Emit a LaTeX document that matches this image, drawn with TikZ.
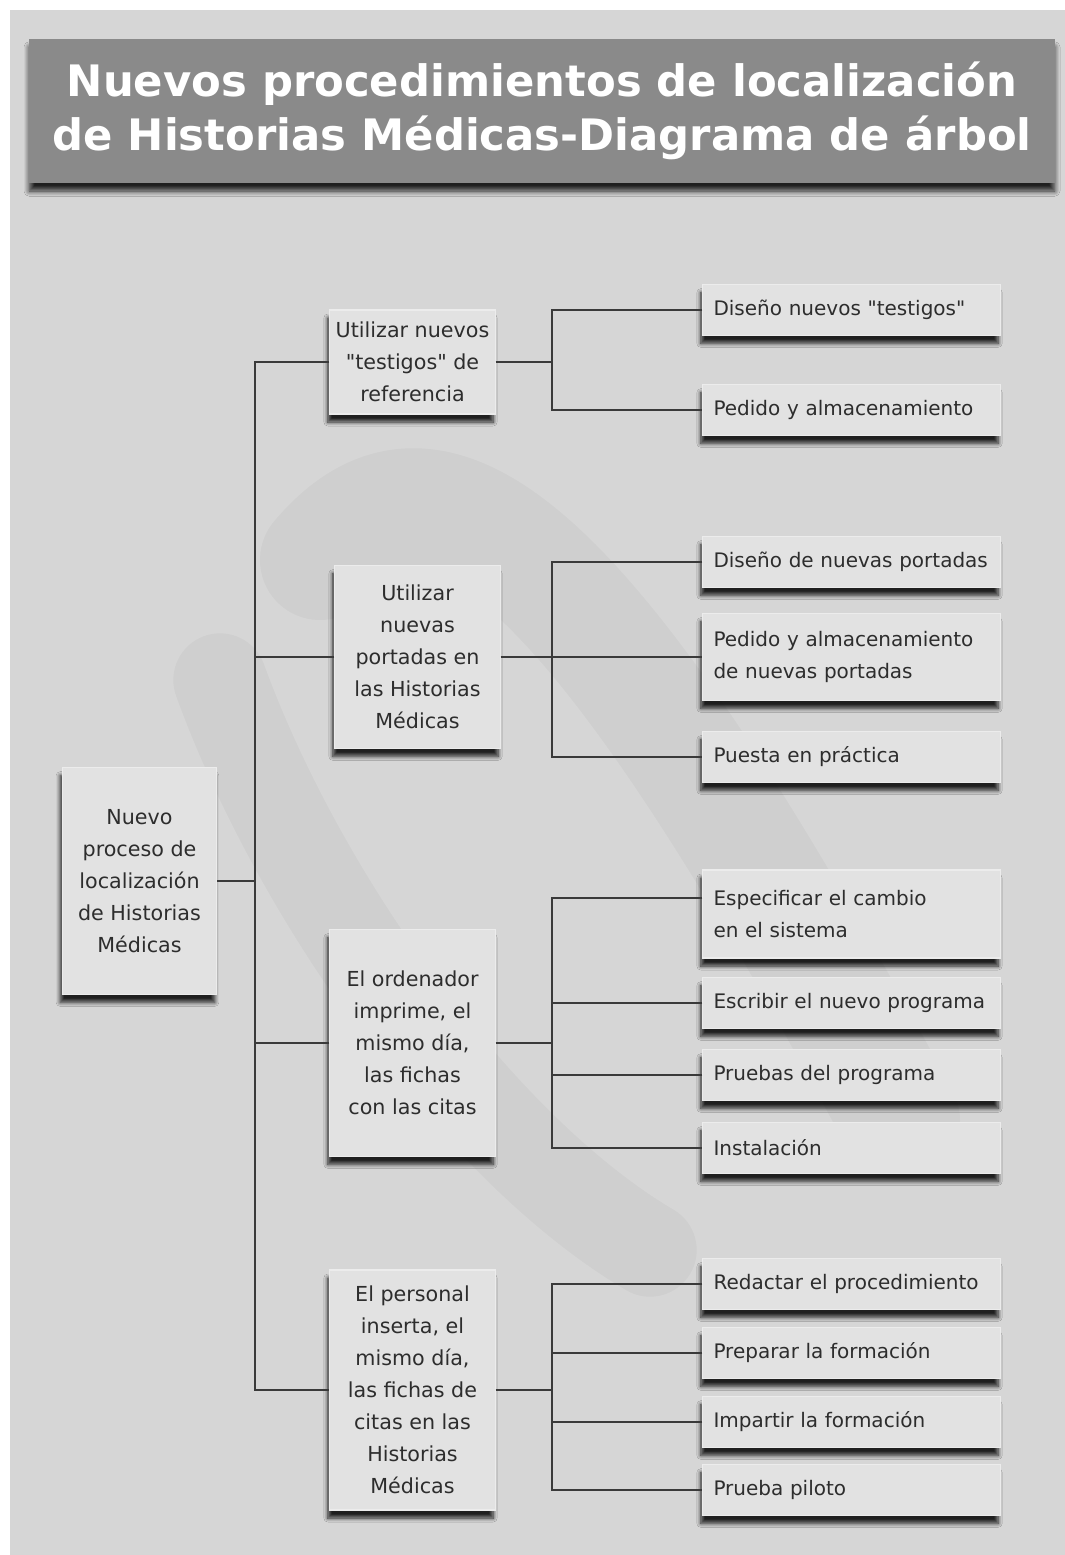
\documentclass[tikz,border=0pt]{standalone}
\usepackage{fontspec}
\setmainfont{DejaVu Sans}[Ligatures=TeXOff]
\usetikzlibrary{shadows.blur,calc}

\definecolor{pagebg}{RGB}{214,214,214}
\definecolor{boxfill}{RGB}{226,226,226}
\definecolor{titlefill}{RGB}{138,138,138}
\definecolor{linecol}{RGB}{58,58,58}
\definecolor{textcol}{RGB}{45,45,45}

\tikzset{
  boxbase/.style={fill=boxfill, draw=white!85!gray, line width=0.8pt,
    text=textcol, inner sep=0pt,
    blur shadow={shadow xshift=-1.5pt, shadow yshift=-6pt,
      shadow blur radius=3pt, shadow blur steps=8, shadow opacity=85}},
  rootbox/.style={boxbase, minimum width=116pt, minimum height=170pt,
    align=center, font=\fontsize{15.5pt}{24pt}\selectfont},
  midbox/.style={boxbase, minimum width=124pt,
    align=center, font=\fontsize{15.5pt}{24pt}\selectfont},
  leafbox/.style={boxbase, minimum width=223pt, minimum height=38pt,
    text width=207pt, align=left, inner xsep=8pt,
    font=\fontsize{15pt}{24.5pt}\selectfont},
  conn/.style={draw=linecol, line width=1.9pt}
}

\begin{document}
\begin{tikzpicture}[x=0.75pt,y=-0.75pt]
  % page and background
  \useasboundingbox (0,0) rectangle (1064,1555);
  \fill[white] (-5,-5) rectangle (1070,1560);
  \fill[pagebg] (10,10) rectangle (1070,1560);
  % soft diagonal sweep behind the tree
  \begin{scope}[opacity=0.03, line cap=round]
    \draw[line width=90pt, black] (320,560) .. controls (430,430) and (580,520) .. (900,1120);
    \draw[line width=70pt, black] (220,680) .. controls (300,900) and (480,1150) .. (650,1250);
  \end{scope}

  % title banner
  \node[fill=titlefill, minimum width=769pt, minimum height=108pt, inner sep=0pt,
        blur shadow={shadow xshift=0pt, shadow yshift=-6pt,
          shadow blur radius=4pt, shadow blur steps=8, shadow opacity=85}]
    (title) at (542,111) {};
  \node[text=white, align=center, font=\bfseries\fontsize{32.5pt}{40pt}\selectfont]
    (titletext) at (title.center) {Nuevos procedimientos de localización\\de Historias Médicas-Diagrama de árbol};

  % root
  \node[rootbox] (R) at (139.5,881) {Nuevo\\proceso de\\localización\\de Historias\\Médicas};

  % second level
  \node[midbox, minimum height=78pt] (B1) at (412.5,362) {Utilizar nuevos\\"testigos" de\\referencia};
  \node[midbox, minimum height=137pt] (B2) at (417.5,657) {Utilizar\\nuevas\\portadas en\\las Historias\\Médicas};
  \node[midbox, minimum height=170pt] (B3) at (412.5,1043) {El ordenador\\imprime, el\\mismo día,\\las fichas\\con las citas};
  \node[midbox, minimum height=180pt] (B4) at (412.5,1390) {El personal\\inserta, el\\mismo día,\\las fichas de\\citas en las\\Historias\\Médicas};

  % leaves
  \node[leafbox] (L11) at (851.5,310) {Diseño nuevos "testigos"};
  \node[leafbox] (L12) at (851.5,410) {Pedido y almacenamiento};
  \node[leafbox] (L21) at (851.5,562) {Diseño de nuevas portadas};
  \node[leafbox, minimum height=65pt] (L22) at (851.5,657) {Pedido y almacenamiento\\de nuevas portadas};
  \node[leafbox] (L23) at (851.5,757) {Puesta en práctica};
  \node[leafbox, minimum height=66pt] (L31) at (851.5,914) {Especificar el cambio\\en el sistema};
  \node[leafbox] (L32) at (851.5,1003) {Escribir el nuevo programa};
  \node[leafbox] (L33) at (851.5,1075) {Pruebas del programa};
  \node[leafbox] (L34) at (851.5,1148) {Instalación};
  \node[leafbox] (L41) at (851.5,1284) {Redactar el procedimiento};
  \node[leafbox] (L42) at (851.5,1353) {Preparar la formación};
  \node[leafbox] (L43) at (851.5,1422) {Impartir la formación};
  \node[leafbox] (L44) at (851.5,1490) {Prueba piloto};

  % trunk and branch columns
  \coordinate (T) at (255,881);
  \coordinate (S) at (552,0);

  % root to second level
  \draw[conn] (R.east) -- (T);
  \draw[conn] (B1.west) -- (B1.west -| T) -- (B4.west -| T) -- (B4.west);
  \draw[conn] (B2.west) -- (B2.west -| T);
  \draw[conn] (B3.west) -- (B3.west -| T);

  % group 1
  \draw[conn] (B1.east) -- (B1.east -| S);
  \draw[conn] (L11.west) -- (L11.west -| S) -- (L12.west -| S) -- (L12.west);
  % group 2
  \draw[conn] (B2.east) -- (L22.west);
  \draw[conn] (L21.west) -- (L21.west -| S) -- (L23.west -| S) -- (L23.west);
  % group 3
  \draw[conn] (B3.east) -- (B3.east -| S);
  \draw[conn] ([yshift=12pt]L31.west) -- ([yshift=12pt]L31.west -| S) -- (L34.west -| S) -- (L34.west);
  \draw[conn] (L32.west) -- (L32.west -| S);
  \draw[conn] (L33.west) -- (L33.west -| S);
  % group 4
  \draw[conn] (B4.east) -- (B4.east -| S);
  \draw[conn] (L41.west) -- (L41.west -| S) -- (L44.west -| S) -- (L44.west);
  \draw[conn] (L42.west) -- (L42.west -| S);
  \draw[conn] (L43.west) -- (L43.west -| S);
\end{tikzpicture}
\end{document}
